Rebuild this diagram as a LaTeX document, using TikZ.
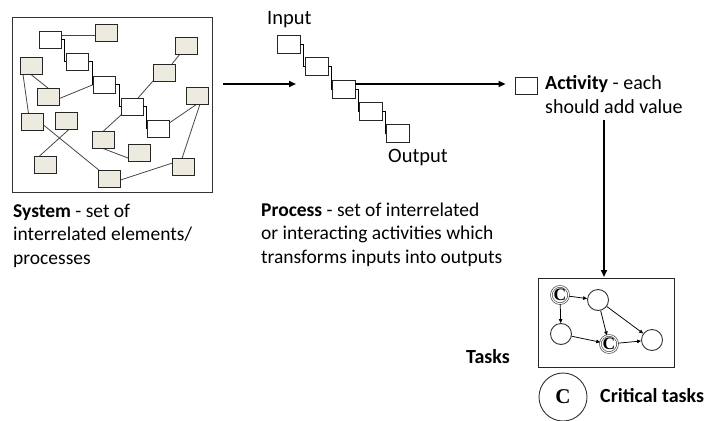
\documentclass[tikz,border=0pt]{standalone}
\usepackage{fontspec}
\setmainfont{Carlito}
\newfontfamily\cfont{Liberation Serif}
\usetikzlibrary{arrows.meta,calc}
\definecolor{boxgray}{RGB}{237,235,224}
\definecolor{linegray}{RGB}{70,70,70}
\begin{document}
\begin{tikzpicture}[x=1pt,y=-1pt,
 sbox/.style={draw=black!85,line width=0.9pt,minimum width=22pt,minimum height=17pt,inner sep=0pt},
 gbox/.style={sbox,fill=boxgray},
 wbox/.style={sbox,fill=white},
 conn/.style={draw=linegray,line width=0.8pt},
 stair/.style={draw=black,line width=0.9pt},
 bigarrow/.style={line width=1.8pt,-{Triangle[length=7pt,width=6pt]}},
 tnode/.style={circle,draw=black!80,line width=0.9pt,minimum size=21pt,inner sep=0pt},
 cnode/.style={circle,draw=black!80,line width=0.6pt,double,double distance=1.1pt,minimum size=15.5pt,inner sep=0pt,font=\cfont\bfseries\fontsize{17.5}{17.5}\selectfont},
 tarrow/.style={line width=0.75pt,-{Triangle[length=4pt,width=3.5pt]}},
 txt/.style={anchor=base west,inner sep=0pt,align=left,font=\fontsize{19.5}{23.5}\selectfont},
 btxt/.style={anchor=base west,inner sep=0pt,font=\bfseries\fontsize{20}{23.5}\selectfont}
]
\path[use as bounding box] (0,0) rectangle (711,420);

% ---------- System ----------
\node[draw=black!80,line width=0.9pt,minimum width=200pt,minimum height=175pt,inner sep=0pt] (sys) at (112,104.5) {};

\draw[conn] (50,35) -- (106.5,35);
\draw[conn] (31,74.5) -- (48.5,88.5);
\draw[conn] (23,74.5) -- (28.5,113.5);
\draw[conn] (59.5,98.5) -- (93.5,84.5);
\draw[conn] (172,64) -- (180,54);
\draw[conn] (138,98) -- (153,81);
\draw[conn] (121,115) -- (103,131.5);
\draw[conn] (103,148.5) -- (128,158);
\draw[conn] (197,104) -- (170,122.5);
\draw[conn] (200,104) -- (182,158.5);
\draw[conn] (172.5,163) -- (120.5,180);
\draw[conn] (43.5,125) -- (100,171);
\draw[conn] (70,128.5) -- (39,156.5);

\node[wbox] (b1) at (50,39.5) {};
\node[gbox] (b2) at (106.5,33) {};
\node[wbox] (b3) at (77.5,61.5) {};
\node[gbox] (b4) at (186,45.5) {};
\node[gbox] (b5) at (31,66) {};
\node[wbox] (b6) at (104.5,84.5) {};
\node[gbox] (b7) at (164,72.5) {};
\node[gbox] (b8) at (48.5,97) {};
\node[gbox] (b9) at (197.5,95.5) {};
\node[wbox] (b10) at (132,106.5) {};
\node[gbox] (b11) at (32.5,122) {};
\node[gbox] (b12) at (66.5,120.5) {};
\node[wbox] (b13) at (158.5,128.5) {};
\node[gbox] (b14) at (103,140) {};
\node[gbox] (b15) at (139,152.5) {};
\node[gbox] (b16) at (45,165) {};
\node[gbox] (b17) at (183.5,167) {};
\node[gbox] (b18) at (109.5,178.5) {};

\draw[stair] (b1.east) -- ++(3,0) |- (b3.west);
\draw[stair] (b3.east) -- ++(3,0) |- (b6.west);
\draw[stair] (b6.east) -- ++(3,0) |- (b10.west);
\draw[stair] (b10.east) -- ++(2.5,0) |- (b13.west);

\node[txt] (systxt) at (13,264) {\textbf{System} - set of\\interrelated elements/\\processes};

% ---------- Process ----------
\node[wbox,minimum width=23pt,minimum height=18pt] (pA) at (288.5,44) {};
\node[wbox,minimum width=23pt,minimum height=18pt] (pB) at (316.5,66) {};
\node[wbox,minimum width=23pt,minimum height=18pt] (pC) at (343.5,89) {};
\node[wbox,minimum width=23pt,minimum height=18pt] (pD) at (370.5,111) {};
\node[wbox,minimum width=23pt,minimum height=18pt] (pE) at (398,133.5) {};
\draw[stair] (pA.east) -- ++(3,0) |- (pB.west);
\draw[stair] (pB.east) -- ++(3,0) |- (pC.west);
\draw[stair] (pC.east) -- ++(3,0) |- (pD.west);
\draw[stair] (pD.east) -- ++(3,0) |- (pE.west);

\node[txt,font=\fontsize{20.5}{23.5}\selectfont] (intxt) at (267,25) {Input};
\node[txt,font=\fontsize{20.5}{23.5}\selectfont] (outtxt) at (388,162) {Output};

\coordinate (a1s) at (223,84);
\coordinate (a1e) at (296,84);
\draw[bigarrow] (a1s) -- (a1e);

\node[txt] (proctxt) at (261,263) {\textbf{Process} - set of interrelated\\or interacting activities which\\transforms inputs into outputs};

% ---------- Activity ----------
\node[wbox] (act) at (526,85.5) {};
\draw[bigarrow] ($(pC.east)+(0,-5)$) -- ($(act.west)+(-9,-1.5)$);
\node[txt,font=\fontsize{20}{24}\selectfont] (acttxt) at (545,113) {\textbf{Activity} - each\\should add value};

\coordinate (v1) at (604,120);
\coordinate (v2) at (604,277);
\draw[bigarrow] (v1) -- (v2);

% ---------- Tasks ----------
\node[draw=black!85,line width=0.9pt,minimum width=136pt,minimum height=89pt,inner sep=0pt] (tasks) at (606,322.5) {};
\node[cnode] (c1) at (560,295) {C};
\node[tnode] (n2) at (598,300) {};
\node[tnode] (n3) at (561,334) {};
\node[cnode] (c2) at (609,344) {C};
\node[tnode] (n5) at (652,340) {};
\draw[tarrow] (c1) -- (n2);
\draw[tarrow] (c1) -- (n3);
\draw[tarrow] (n3) -- (c2);
\draw[tarrow] (n2) -- (c2);
\draw[tarrow] (n2) -- (n5);
\draw[tarrow] (c2) -- (n5);

\node[btxt] (taskstxt) at (466,363) {Tasks};

\node[circle,draw=black!80,line width=0.9pt,minimum size=48pt,inner sep=0pt,font=\cfont\bfseries\fontsize{21}{21}\selectfont] (bigc) at (563,397) {C};
\node[btxt] (crittxt) at (600,402) {Critical tasks};
\end{tikzpicture}
\end{document}
